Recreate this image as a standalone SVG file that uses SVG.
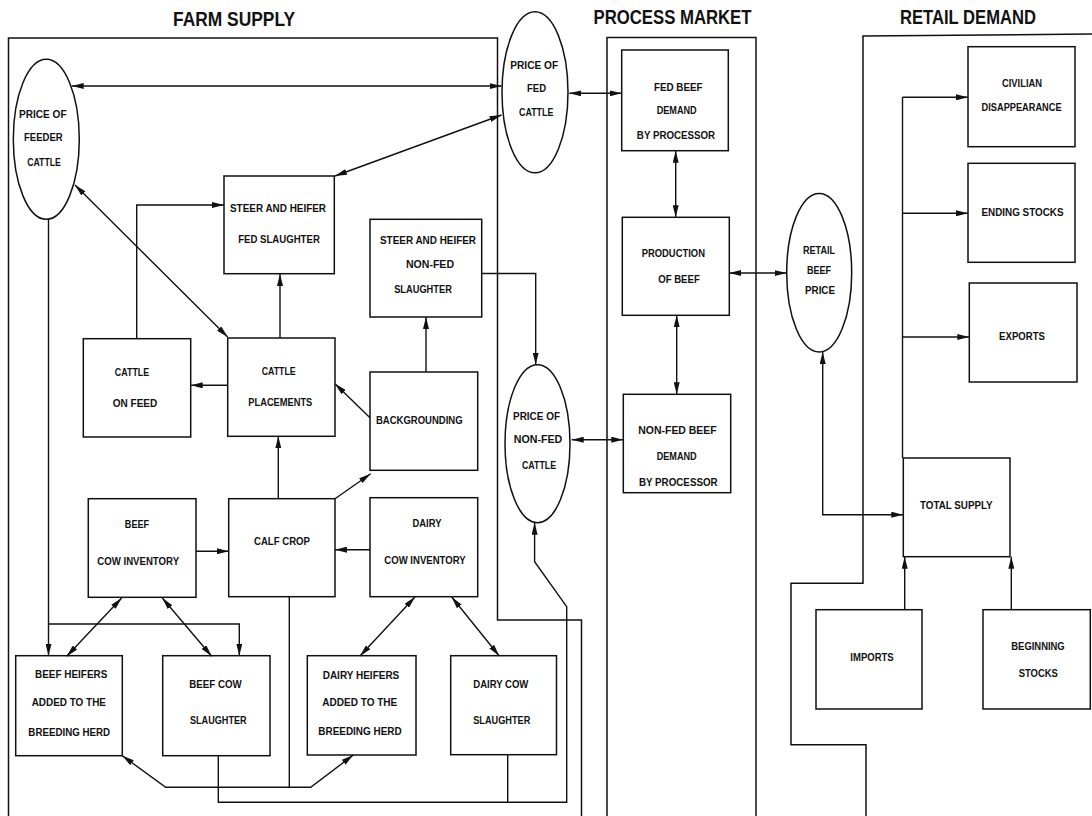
<svg xmlns="http://www.w3.org/2000/svg" width="1092" height="816" viewBox="0 0 1092 816">
<style>
text{font-family:"Liberation Sans",Arial,sans-serif;font-weight:bold;fill:#111;text-anchor:middle}
.t{font-size:11.5px}
.h{font-size:21px}
.box{fill:none;stroke:#111;stroke-width:1.5}
.fr{fill:none;stroke:#111;stroke-width:1.5}
.c{fill:none;stroke:#111;stroke-width:1.4}
</style>
<defs>
<marker id="ah" viewBox="0 0 12 6" markerUnits="userSpaceOnUse" markerWidth="12" markerHeight="6" refX="12" refY="3" orient="auto-start-reverse">
<path d="M0,0 L12,3 L0,6 Z" fill="#111"/>
</marker>
</defs>
<rect width="1092" height="816" fill="#fff"/>

<g id="titles">
<text class="h" x="234" y="25.7" textLength="122" lengthAdjust="spacingAndGlyphs">FARM SUPPLY</text>
<text class="h" x="672.5" y="24" textLength="158" lengthAdjust="spacingAndGlyphs">PROCESS MARKET</text>
<text class="h" x="968" y="24" textLength="136" lengthAdjust="spacingAndGlyphs">RETAIL DEMAND</text>
</g>

<g id="frames">
<path class="fr" d="M8.5,816 V38 H497.5 V620 H581.5 V816"/>
<path class="fr" d="M607,816 V37.5 H756 V816"/>
<path class="fr" d="M1092,34 L863,36 V583.3 H791 V744.7 H866 V816"/>
</g>

<g id="connectors">
<line class="c" x1="71.7" y1="86" x2="501.5" y2="86" marker-start="url(#ah)" marker-end="url(#ah)"/>
<line class="c" x1="501.5" y1="115" x2="335" y2="176" marker-start="url(#ah)" marker-end="url(#ah)"/>
<path class="c" d="M136.7,338.7 V205 H224" marker-end="url(#ah)"/>
<line class="c" x1="75" y1="185" x2="227.7" y2="337" marker-start="url(#ah)" marker-end="url(#ah)"/>
<line class="c" x1="280" y1="338" x2="280" y2="274" marker-end="url(#ah)"/>
<line class="c" x1="227.7" y1="385.3" x2="190.7" y2="385.3" marker-end="url(#ah)"/>
<line class="c" x1="370" y1="417.7" x2="335" y2="383.7" marker-end="url(#ah)"/>
<line class="c" x1="426" y1="372" x2="426" y2="317" marker-end="url(#ah)"/>
<line class="c" x1="278.3" y1="498.7" x2="278.3" y2="436.3" marker-end="url(#ah)"/>
<line class="c" x1="335" y1="498.7" x2="370.7" y2="473.7" marker-end="url(#ah)"/>
<line class="c" x1="196" y1="551.3" x2="228.7" y2="551.3" marker-end="url(#ah)"/>
<line class="c" x1="370" y1="549.7" x2="335" y2="549.7" marker-end="url(#ah)"/>
<path class="c" d="M481.7,273.5 H535.7 V364.7" marker-end="url(#ah)"/>
<line class="c" x1="569.3" y1="93.3" x2="621.7" y2="93.3" marker-start="url(#ah)" marker-end="url(#ah)"/>
<line class="c" x1="675.7" y1="150.7" x2="675.7" y2="217.3" marker-start="url(#ah)" marker-end="url(#ah)"/>
<line class="c" x1="729.3" y1="273" x2="786.5" y2="273" marker-start="url(#ah)" marker-end="url(#ah)"/>
<line class="c" x1="676.7" y1="315.3" x2="676.7" y2="394.3" marker-start="url(#ah)" marker-end="url(#ah)"/>
<line class="c" x1="571.7" y1="439.7" x2="623.3" y2="439.7" marker-start="url(#ah)" marker-end="url(#ah)"/>
<path class="c" d="M822.7,352 V514.7 H903.3" marker-start="url(#ah)" marker-end="url(#ah)"/>
<path class="c" d="M902.5,97.3 V458"/>
<path class="c" d="M902.5,97.3 H968" marker-end="url(#ah)"/>
<path class="c" d="M902.5,213.3 H968" marker-end="url(#ah)"/>
<path class="c" d="M902.5,337 H969.3" marker-end="url(#ah)"/>
<line class="c" x1="904.7" y1="609.7" x2="904.7" y2="556.7" marker-end="url(#ah)"/>
<line class="c" x1="1011.3" y1="609.7" x2="1011.3" y2="556.7" marker-end="url(#ah)"/>
<path class="c" d="M48.5,219.3 V655.7" marker-end="url(#ah)"/>
<path class="c" d="M48.5,624 H239.3 V655.7" marker-end="url(#ah)"/>
<line class="c" x1="121.7" y1="598" x2="66.7" y2="656.3" marker-start="url(#ah)" marker-end="url(#ah)"/>
<line class="c" x1="162.3" y1="598" x2="211.7" y2="656.3" marker-start="url(#ah)" marker-end="url(#ah)"/>
<line class="c" x1="415" y1="597" x2="360" y2="656" marker-start="url(#ah)" marker-end="url(#ah)"/>
<line class="c" x1="451.7" y1="597" x2="499.3" y2="656" marker-start="url(#ah)" marker-end="url(#ah)"/>
<path class="c" d="M289.3,596.7 V787.3"/>
<path class="c" d="M122.3,755.7 L165.7,787.3 H310.7 L353.3,755" marker-start="url(#ah)" marker-end="url(#ah)"/>
<path class="c" d="M218.3,755.7 V802.3 H566.7 V606.7 L534.6,561.7 V522.7" marker-end="url(#ah)"/>
<path class="c" d="M507.7,754.7 V802.3"/>
</g>

<g id="price-feeder-cattle">
<ellipse class="box" cx="46.3" cy="139.3" rx="33" ry="80"/>
<text class="t" x="42.8" y="118.3" textLength="47.7" lengthAdjust="spacingAndGlyphs">PRICE OF</text>
<text class="t" x="43.3" y="141" textLength="38.7" lengthAdjust="spacingAndGlyphs">FEEDER</text>
<text class="t" x="44" y="165.7" textLength="33.7" lengthAdjust="spacingAndGlyphs">CATTLE</text>
</g>

<g id="price-fed-cattle">
<ellipse class="box" cx="535" cy="92.3" rx="33" ry="80.5"/>
<text class="t" x="534.2" y="69.3" textLength="48" lengthAdjust="spacingAndGlyphs">PRICE OF</text>
<text class="t" x="536.5" y="91.7" textLength="19" lengthAdjust="spacingAndGlyphs">FED</text>
<text class="t" x="536.2" y="115.7" textLength="34.4" lengthAdjust="spacingAndGlyphs">CATTLE</text>
</g>

<g id="fed-slaughter">
<rect class="box" x="224" y="176" width="110.3" height="97.7"/>
<text class="t" x="278" y="211.7" textLength="96" lengthAdjust="spacingAndGlyphs">STEER AND HEIFER</text>
<text class="t" x="279" y="242.7" textLength="81.7" lengthAdjust="spacingAndGlyphs">FED SLAUGHTER</text>
</g>

<g id="nonfed-slaughter">
<rect class="box" x="370" y="219.3" width="111.7" height="97.7"/>
<text class="t" x="428" y="243.7" textLength="96" lengthAdjust="spacingAndGlyphs">STEER AND HEIFER</text>
<text class="t" x="430" y="268.3" textLength="48" lengthAdjust="spacingAndGlyphs">NON-FED</text>
<text class="t" x="423" y="292.7" textLength="57.7" lengthAdjust="spacingAndGlyphs">SLAUGHTER</text>
</g>

<g id="cattle-on-feed">
<rect class="box" x="83.3" y="338.7" width="107.4" height="98.3"/>
<text class="t" x="132" y="376" textLength="34.3" lengthAdjust="spacingAndGlyphs">CATTLE</text>
<text class="t" x="135" y="407" textLength="44.6" lengthAdjust="spacingAndGlyphs">ON FEED</text>
</g>

<g id="cattle-placements">
<rect class="box" x="227.7" y="338" width="107.3" height="98.3"/>
<text class="t" x="278.7" y="375.3" textLength="34" lengthAdjust="spacingAndGlyphs">CATTLE</text>
<text class="t" x="280.3" y="406.3" textLength="64" lengthAdjust="spacingAndGlyphs">PLACEMENTS</text>
</g>

<g id="backgrounding">
<rect class="box" x="370" y="372" width="107.7" height="98.3"/>
<text class="t" x="419.3" y="423.7" textLength="86.7" lengthAdjust="spacingAndGlyphs">BACKGROUNDING</text>
</g>

<g id="beef-cow-inventory">
<rect class="box" x="88.3" y="498.7" width="107.7" height="98.6"/>
<text class="t" x="137" y="527.7" textLength="24.3" lengthAdjust="spacingAndGlyphs">BEEF</text>
<text class="t" x="138.2" y="564.7" textLength="81.7" lengthAdjust="spacingAndGlyphs">COW INVENTORY</text>
</g>

<g id="calf-crop">
<rect class="box" x="228.7" y="498.7" width="106.3" height="98"/>
<text class="t" x="282" y="545" textLength="56" lengthAdjust="spacingAndGlyphs">CALF CROP</text>
</g>

<g id="dairy-cow-inventory">
<rect class="box" x="370" y="497.7" width="107.7" height="99"/>
<text class="t" x="427" y="527" textLength="29" lengthAdjust="spacingAndGlyphs">DAIRY</text>
<text class="t" x="425" y="564" textLength="81.4" lengthAdjust="spacingAndGlyphs">COW INVENTORY</text>
</g>

<g id="beef-heifers">
<rect class="box" x="15.7" y="655.7" width="106.6" height="100"/>
<text class="t" x="71.2" y="678" textLength="72.3" lengthAdjust="spacingAndGlyphs">BEEF HEIFERS</text>
<text class="t" x="68.8" y="706.3" textLength="74.3" lengthAdjust="spacingAndGlyphs">ADDED TO THE</text>
<text class="t" x="69.2" y="735.7" textLength="81.7" lengthAdjust="spacingAndGlyphs">BREEDING HERD</text>
</g>

<g id="beef-cow-slaughter">
<rect class="box" x="162.7" y="655.7" width="107.3" height="100"/>
<text class="t" x="215.5" y="688" textLength="52.4" lengthAdjust="spacingAndGlyphs">BEEF COW</text>
<text class="t" x="218.3" y="724" textLength="56.7" lengthAdjust="spacingAndGlyphs">SLAUGHTER</text>
</g>

<g id="dairy-heifers">
<rect class="box" x="307.3" y="655.7" width="108.7" height="99.3"/>
<text class="t" x="361" y="679" textLength="76.6" lengthAdjust="spacingAndGlyphs">DAIRY HEIFERS</text>
<text class="t" x="359.8" y="705.7" textLength="75" lengthAdjust="spacingAndGlyphs">ADDED TO THE</text>
<text class="t" x="360" y="734.7" textLength="83.4" lengthAdjust="spacingAndGlyphs">BREEDING HERD</text>
</g>

<g id="dairy-cow-slaughter">
<rect class="box" x="450.7" y="655.7" width="105.8" height="99"/>
<text class="t" x="500.8" y="688" textLength="55" lengthAdjust="spacingAndGlyphs">DAIRY COW</text>
<text class="t" x="501.8" y="724" textLength="57.2" lengthAdjust="spacingAndGlyphs">SLAUGHTER</text>
</g>

<g id="price-nonfed-cattle">
<ellipse class="box" cx="537.5" cy="443.7" rx="32.5" ry="79"/>
<text class="t" x="536.5" y="420.3" textLength="47" lengthAdjust="spacingAndGlyphs">PRICE OF</text>
<text class="t" x="538" y="442.7" textLength="48.5" lengthAdjust="spacingAndGlyphs">NON-FED</text>
<text class="t" x="539" y="468.7" textLength="34" lengthAdjust="spacingAndGlyphs">CATTLE</text>
</g>

<g id="fed-beef-demand">
<rect class="box" x="621.7" y="50" width="106.6" height="100.7"/>
<text class="t" x="678.3" y="90.7" textLength="48.7" lengthAdjust="spacingAndGlyphs">FED BEEF</text>
<text class="t" x="676.7" y="114" textLength="40" lengthAdjust="spacingAndGlyphs">DEMAND</text>
<text class="t" x="676" y="139" textLength="78.3" lengthAdjust="spacingAndGlyphs">BY PROCESSOR</text>
</g>

<g id="production-of-beef">
<rect class="box" x="622.3" y="217.3" width="107" height="98"/>
<text class="t" x="673.3" y="257.3" textLength="63.3" lengthAdjust="spacingAndGlyphs">PRODUCTION</text>
<text class="t" x="679" y="282.7" textLength="41.7" lengthAdjust="spacingAndGlyphs">OF BEEF</text>
</g>

<g id="nonfed-beef-demand">
<rect class="box" x="623.3" y="394.3" width="107.4" height="98.4"/>
<text class="t" x="677.5" y="433.7" textLength="78.4" lengthAdjust="spacingAndGlyphs">NON-FED BEEF</text>
<text class="t" x="676.7" y="459.7" textLength="40" lengthAdjust="spacingAndGlyphs">DEMAND</text>
<text class="t" x="678.3" y="486" textLength="78.7" lengthAdjust="spacingAndGlyphs">BY PROCESSOR</text>
</g>

<g id="retail-beef-price">
<ellipse class="box" cx="819.2" cy="272.7" rx="32.5" ry="79.3"/>
<text class="t" x="819" y="254" textLength="32" lengthAdjust="spacingAndGlyphs">RETAIL</text>
<text class="t" x="819" y="274" textLength="24" lengthAdjust="spacingAndGlyphs">BEEF</text>
<text class="t" x="820" y="293.7" textLength="30" lengthAdjust="spacingAndGlyphs">PRICE</text>
</g>

<g id="civilian-disappearance">
<rect class="box" x="968" y="46.7" width="107" height="100"/>
<text class="t" x="1022" y="86.7" textLength="40" lengthAdjust="spacingAndGlyphs">CIVILIAN</text>
<text class="t" x="1021.6" y="111" textLength="80" lengthAdjust="spacingAndGlyphs">DISAPPEARANCE</text>
</g>

<g id="ending-stocks">
<rect class="box" x="968" y="163.3" width="107" height="99"/>
<text class="t" x="1022.5" y="215.7" textLength="82" lengthAdjust="spacingAndGlyphs">ENDING STOCKS</text>
</g>

<g id="exports">
<rect class="box" x="969.3" y="283" width="107.7" height="99"/>
<text class="t" x="1022" y="339.7" textLength="45.8" lengthAdjust="spacingAndGlyphs">EXPORTS</text>
</g>

<g id="total-supply">
<rect class="box" x="903.3" y="458" width="106.7" height="98.7"/>
<text class="t" x="956.3" y="509.3" textLength="72.7" lengthAdjust="spacingAndGlyphs">TOTAL SUPPLY</text>
</g>

<g id="imports">
<rect class="box" x="816" y="609.7" width="106" height="99.3"/>
<text class="t" x="872" y="661.3" textLength="43.4" lengthAdjust="spacingAndGlyphs">IMPORTS</text>
</g>

<g id="beginning-stocks">
<rect class="box" x="983" y="609.7" width="107.3" height="99.3"/>
<text class="t" x="1038" y="650" textLength="53.4" lengthAdjust="spacingAndGlyphs">BEGINNING</text>
<text class="t" x="1038.3" y="677.3" textLength="39.3" lengthAdjust="spacingAndGlyphs">STOCKS</text>
</g>
</svg>
